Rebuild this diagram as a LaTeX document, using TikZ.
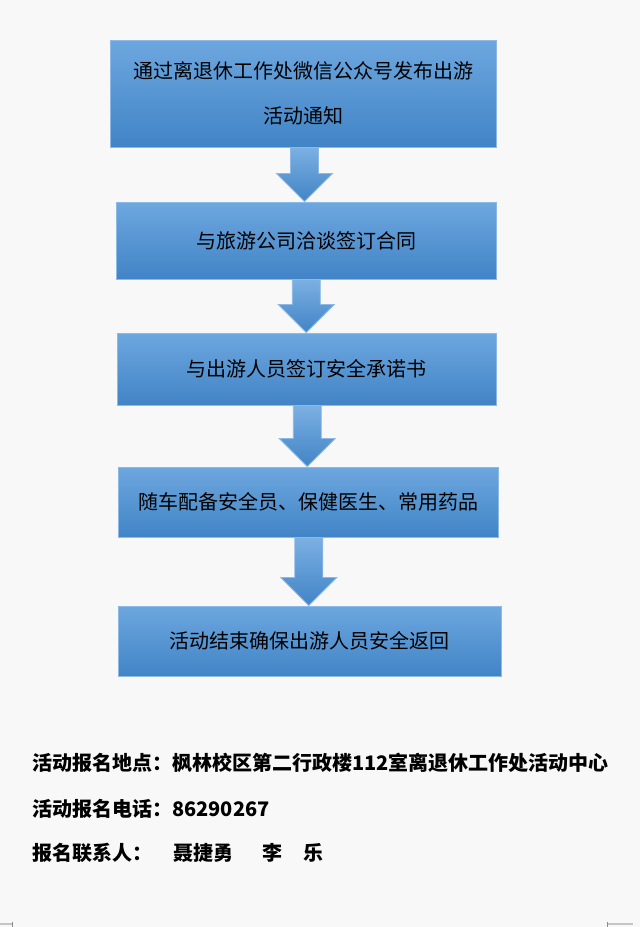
\documentclass[tikz,border=0pt]{standalone}
\usepackage{fontspec}
\newfontfamily\cjk{Noto Sans CJK SC}
\usetikzlibrary{calc}
\definecolor{pagebg}{HTML}{F8F8F8}
\definecolor{boxtop}{HTML}{6DA7DF}
\definecolor{boxbot}{HTML}{4184C6}
\definecolor{boxline}{HTML}{8DB9E6}
\definecolor{markgray}{HTML}{C4C4C4}

\begin{document}
\begin{tikzpicture}[x = 1pt, y = -1pt,
  stepbox/.style = {draw = boxline, line width = 1pt, top color = boxtop, bottom color = boxbot,
                    inner sep = 0pt, align = center, font = \cjk\fontsize{20}{45}\selectfont},
  flowarrow/.style = {draw = boxline, line width = 0.8pt, top color = boxtop!90!white, bottom color = boxbot},
  infoline/.style = {anchor = west, inner sep = 0pt, font = \cjk\bfseries\fontsize{20}{24}\selectfont}]
\useasboundingbox (0, 0) rectangle (640, 927);
\fill[pagebg] (0, 0) rectangle (640, 927);

\node[stepbox, minimum width = 386pt, minimum height = 107pt] at (303, 93.5) (b1)
  {通过离退休工作处微信公众号发布出游\\活动通知};
\node[stepbox, minimum width = 380pt, minimum height = 77pt] at (306, 240.5) (b2)
  {与旅游公司洽谈签订合同};
\node[stepbox, minimum width = 379pt, minimum height = 72pt] at (306.5, 369) (b3)
  {与出游人员签订安全承诺书};
\node[stepbox, minimum width = 380pt, minimum height = 70pt] at (308, 502) (b4)
  {随车配备安全员、保健医生、常用药品};
\node[stepbox, minimum width = 383pt, minimum height = 70pt] at (309.5, 641) (b5)
  {活动结束确保出游人员安全返回};

\foreach \a/\b in {b1/b2, b2/b3, b3/b4, b4/b5}
  \path[flowarrow] let \p1 = (\a.south), \p2 = (\b.north), \p3 = ($(\a.south)!0.5!(\b.north)$) in
    (\x3-14pt, \y1) -- (\x3+14pt, \y1) -- (\x3+14pt, \y2+28pt) -- (\x3+28pt, \y2+28pt)
    -- (\x3, \y2) -- (\x3-28pt, \y2+28pt) -- (\x3-14pt, \y2+28pt) -- cycle;

\node[infoline] at (32, 763) (place) {活动报名地点：枫林校区第二行政楼112室离退休工作处活动中心};
\node[infoline] at (32, 809) (phone) {活动报名电话：86290267};
\node[infoline] at (32, 853) (contact) {报名联系人：\hspace{21pt}聂捷勇\hspace{29pt}李\hspace{21pt}乐};

\draw[markgray, line width = 1.5pt] (0, 924) -- (12, 924);
\draw[markgray, line width = 1.5pt] (607, 924) -- (633, 924);
\draw[markgray!70!black, line width = 1pt] (12, 922) -- (12, 927);
\draw[markgray!70!black, line width = 1pt] (607, 922) -- (607, 927);
\end{tikzpicture}
\end{document}
